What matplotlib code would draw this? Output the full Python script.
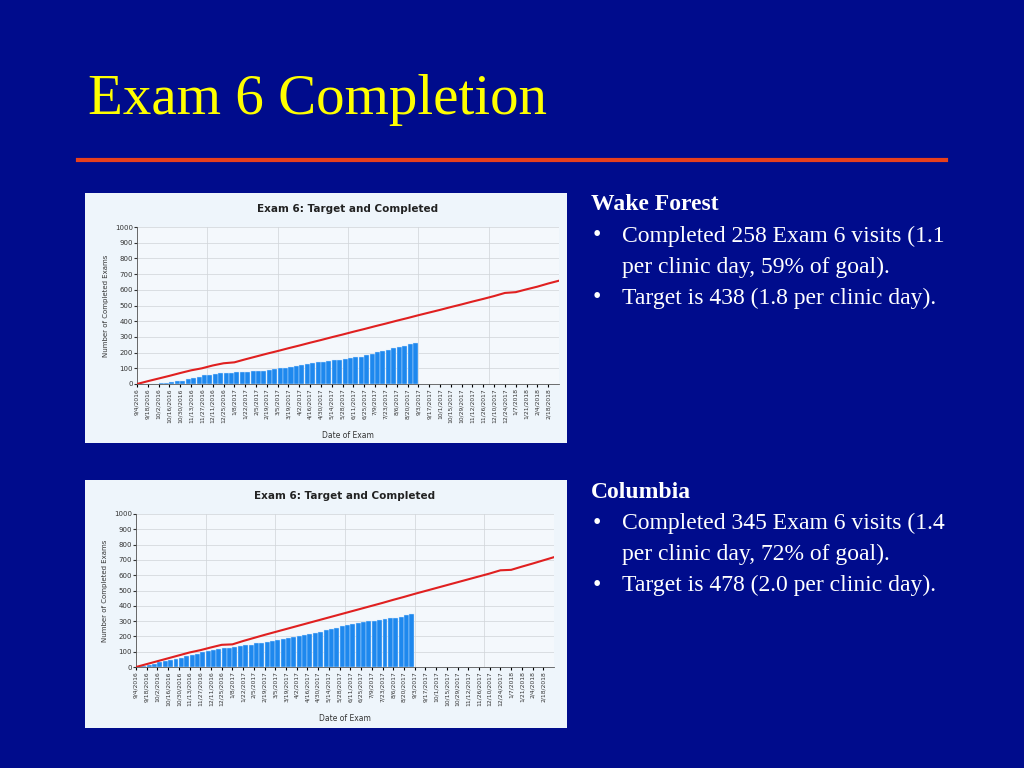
import matplotlib
matplotlib.use("Agg")
import matplotlib.pyplot as plt
import pandas as pd

# --- data ---
target_dates = pd.date_range("2016-09-04", periods=40, freq="14D")
wf_target = [0, 18, 35, 52, 70, 87, 100, 118, 132, 138, 157, 175, 193, 210, 228, 245, 263,
             280, 298, 315, 333, 350, 368, 385, 403, 420, 438, 455, 472, 490, 507, 525, 542,
             560, 580, 585, 603, 620, 640, 658]
col_target = [0, 19, 38, 57, 76, 95, 110, 128, 145, 148, 170, 190, 210, 229, 248, 267, 286,
              305, 324, 343, 362, 381, 400, 419, 439, 458, 478, 497, 516, 535, 554, 573, 592,
              611, 632, 635, 656, 676, 697, 718]

wf_done = [0, 1, 2, 3, 5, 8, 12, 17, 22, 30, 38, 45, 55, 60, 65, 68, 72, 73, 74, 76,
           77, 80, 82, 85, 88, 93, 100, 103, 108, 113, 120, 126, 132, 137, 142, 147, 152,
           155, 162, 166, 170, 175, 182, 193, 205, 212, 218, 228, 233, 242, 252, 258]
col_done = [0, 6, 12, 20, 30, 40, 48, 55, 62, 72, 80, 88, 95, 102, 108, 115, 122, 124,
            130, 136, 142, 147, 155, 160, 165, 170, 178, 184, 188, 195, 205, 208, 215, 223,
            232, 240, 250, 258, 265, 275, 283, 288, 292, 300, 303, 310, 315, 318, 320, 328,
            338, 345]

sites = [
    ("Wake Forest", wf_done, wf_target,
     ["Completed 258 Exam 6 visits (1.1", "per clinic day, 59% of goal).",
      "Target is 438 (1.8 per clinic day)."]),
    ("Columbia", col_done, col_target,
     ["Completed 345 Exam 6 visits (1.4", "per clinic day, 72% of goal).",
      "Target is 478 (2.0 per clinic day)."]),
]

BG = "#000c8c"
fig = plt.figure(figsize=(10.24, 7.68), dpi=100, facecolor=BG)

fig.text(88 / 1024, 1 - 100 / 768, "Exam 6 Completion", color="#ffff00",
         fontsize=41, family="Liberation Serif", va="center")
fig.add_artist(plt.Line2D([78 / 1024, 946 / 1024], [1 - 160 / 768] * 2,
                          color="#e8401c", lw=3))

panels = [(85, 193, 482, 250, 137, 227, 559, 384),
          (85, 480, 482, 248, 136, 514, 554, 667)]

tick_dates = pd.date_range("2016-09-04", "2018-02-18", freq="14D")
grid_dates = pd.date_range("2016-09-04", periods=7, freq="91D")

for (name, done, target, lines), (px, py, pw, ph, l, t, r, b) in zip(sites, panels):
    pax = fig.add_axes([px / 1024, 1 - (py + ph) / 768, pw / 1024, ph / 768])
    pax.set_facecolor("#eef5fb")
    pax.set_xticks([]); pax.set_yticks([])
    for s in pax.spines.values():
        s.set_visible(False)

    ax = fig.add_axes([l / 1024, 1 - b / 768, (r - l) / 1024, (b - t) / 768])
    ax.set_facecolor("#f4f8fc")
    done_dates = pd.date_range("2016-09-04", periods=len(done), freq="7D")
    ax.bar(done_dates, done, width=6.5, align="edge", color="#1e88ee",
           edgecolor="#cfe6ff", linewidth=0.3, zorder=2)
    ax.plot(target_dates, target, color="#e02020", lw=1.5, zorder=3)
    ax.set_ylim(0, 1000)
    ax.set_yticks(range(0, 1001, 100))
    ax.set_xlim(pd.Timestamp("2016-09-04"), pd.Timestamp("2018-03-04"))
    ax.set_xticks(tick_dates)
    ax.set_xticklabels([f"{d.month}/{d.day}/{d.year}" for d in tick_dates],
                       rotation=90, fontsize=4.3, color="#333333")
    ax.tick_params(axis="y", labelsize=5, colors="#333333", length=2, pad=1)
    ax.tick_params(axis="x", length=2, pad=1)
    ax.grid(axis="y", color="#d0d4d8", lw=0.5, zorder=0)
    for g in grid_dates:
        ax.axvline(g, color="#d0d4d8", lw=0.5, zorder=0)
    for s in ["top", "right"]:
        ax.spines[s].set_visible(False)
    for s in ["left", "bottom"]:
        ax.spines[s].set_color("#555555")
        ax.spines[s].set_linewidth(0.6)
    ax.set_ylabel("Number of Completed Exams", fontsize=5, color="#333333", labelpad=4)
    ax.set_xlabel("Date of Exam", fontsize=5.5, color="#333333", labelpad=6)
    ax.set_title("Exam 6: Target and Completed", fontsize=7.5, fontweight="bold",
                 color="#222222", pad=11)

    # right-hand text
    ty = py + 12
    fig.text(591 / 1024, 1 - ty / 768, name, color="white", fontsize=17,
             fontweight="bold", family="Liberation Serif", va="center")
    for i, line in enumerate(lines):
        y = ty + 31 * (i + 1)
        if i != 1:
            fig.text(593 / 1024, 1 - y / 768, "\u2022", color="white", fontsize=17,
                     family="Liberation Serif", va="center")
        fig.text(622 / 1024, 1 - y / 768, line, color="white", fontsize=17,
                 family="Liberation Serif", va="center")

fig.savefig("out.png", dpi=100, facecolor=BG)
